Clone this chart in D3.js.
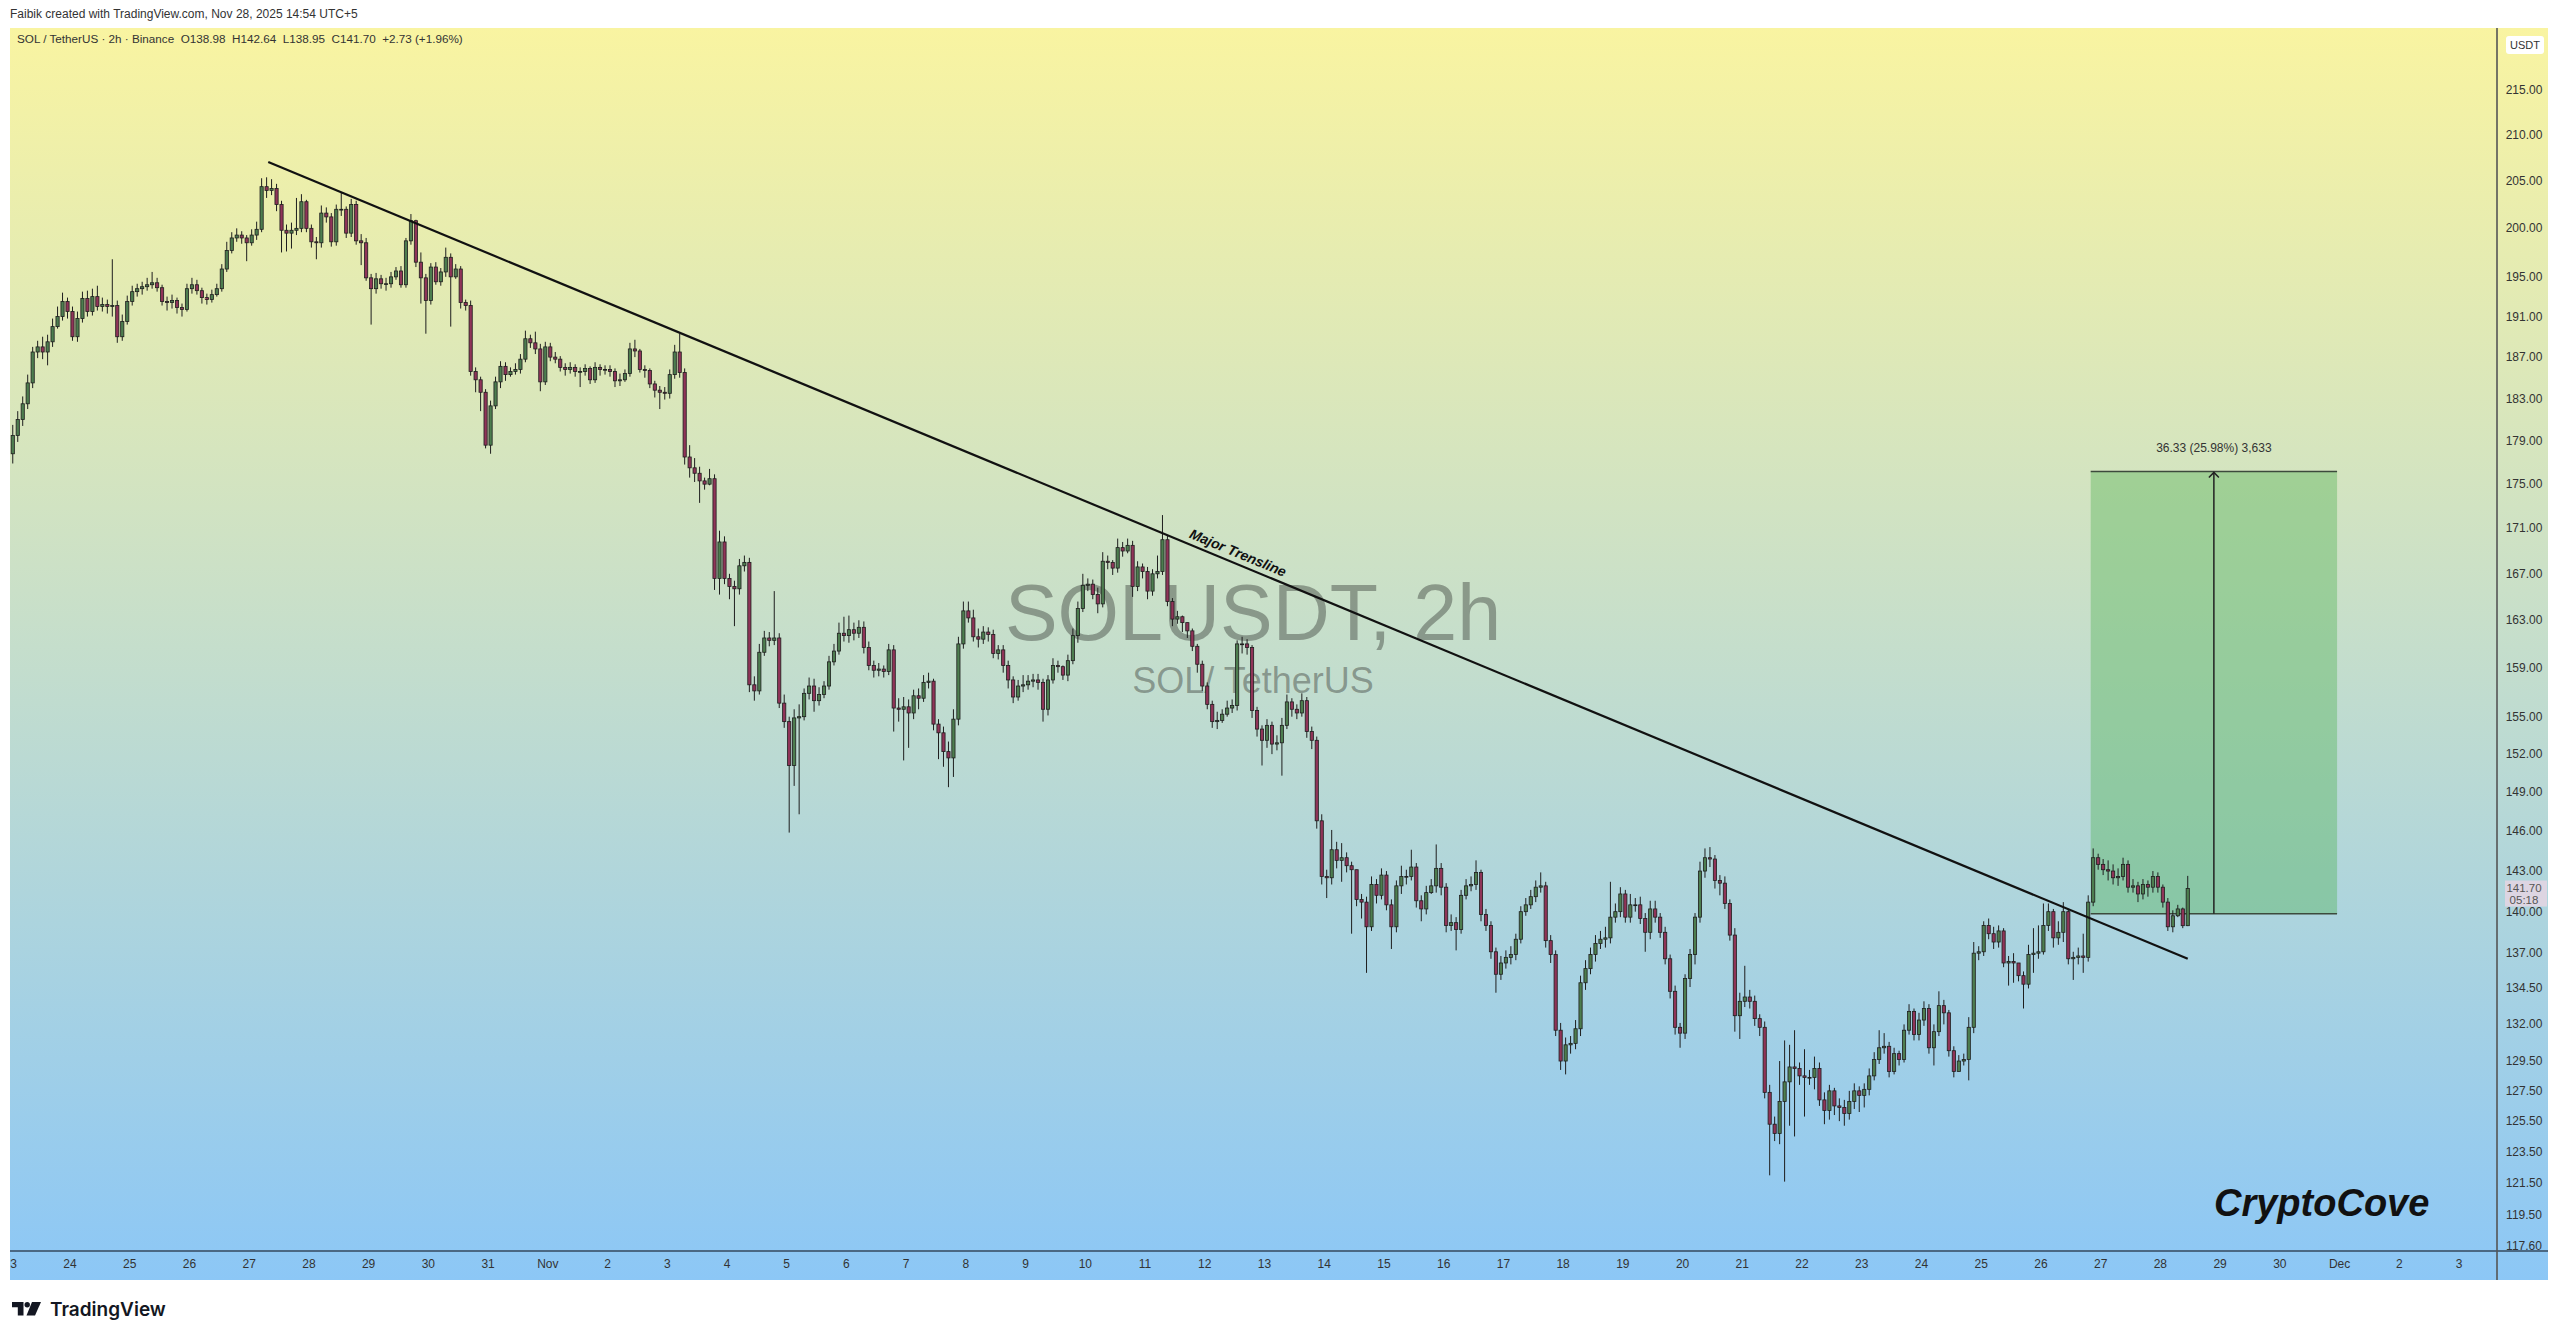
<!DOCTYPE html>
<html><head><meta charset="utf-8">
<script src="https://cdnjs.cloudflare.com/ajax/libs/d3/7.8.5/d3.min.js"></script>
<style>html,body{margin:0;padding:0;background:#fff;}svg{display:block;}text{font-family:"Liberation Sans",Arial,sans-serif;}</style>
</head><body>
<svg id="c" width="2560" height="1339"></svg>
<script>
// ---- DATA (2h candles, SOL/USDT, local time UTC+5) ----
const firstOpen = 177.8;
const closes = [
179.5,181.0,182.5,184.5,187.5,188.0,187.5,188.5,190.0,191.0,192.5,191.5,
189.0,190.8,192.8,191.5,193.0,192.0,192.2,192.0,192.1,189.0,190.5,192.5,
193.5,193.8,194.0,194.2,194.4,193.9,192.5,192.4,192.6,191.9,191.7,193.8,
194.2,193.6,192.9,192.7,193.2,193.8,195.8,197.7,199.0,199.3,199.0,198.5,
199.3,199.9,204.4,204.0,204.2,202.5,199.8,199.5,199.8,200.0,202.8,200.0,
198.6,198.5,201.6,201.2,198.6,202.0,202.0,199.5,202.5,198.7,198.5,194.9,
193.8,194.8,194.3,194.3,195.0,195.6,194.2,198.7,200.8,196.5,194.9,192.6,
196.0,194.5,195.5,197.0,195.0,195.8,192.4,192.1,185.6,184.8,183.6,178.6,
182.3,184.6,186.1,185.3,185.6,185.8,186.8,188.8,188.4,187.8,184.6,188.0,
187.0,186.8,186.0,185.8,186.0,185.6,185.6,185.9,184.8,186.0,185.8,185.8,
185.6,184.7,184.8,185.4,187.8,187.6,185.8,185.7,184.4,183.8,183.6,183.5,
185.3,187.5,185.5,177.5,176.5,176.0,175.3,175.0,175.5,166.6,169.8,166.6,
165.9,165.7,167.7,168.0,157.6,157.1,160.3,161.5,161.3,161.5,156.1,154.6,
151.1,154.9,155.0,156.9,157.5,156.3,156.8,157.5,159.5,160.4,161.9,161.7,
162.2,161.9,162.4,160.7,159.2,158.8,158.9,158.7,160.5,155.7,155.6,155.8,
155.3,156.7,156.5,157.8,157.9,154.4,153.7,152.2,151.7,154.8,161.0,163.8,
163.2,161.6,161.4,162.0,161.8,160.2,160.5,159.2,158.0,156.6,157.5,157.6,
157.9,158.0,157.8,155.6,158.0,159.2,159.1,158.4,159.6,161.7,164.0,166.0,
166.1,165.2,164.4,168.1,168.0,167.5,169.3,169.0,169.5,165.9,167.6,167.2,
165.5,167.0,167.2,170.0,164.6,163.1,163.3,162.8,162.1,160.8,159.3,157.5,
156.0,154.6,154.7,155.2,155.7,155.9,161.0,161.0,160.7,155.5,154.0,153.1,
154.3,152.8,152.9,154.3,156.2,155.6,155.3,156.3,153.8,153.1,146.8,142.6,
142.5,144.6,143.8,144.0,143.4,143.1,140.9,140.7,138.9,142.0,141.2,142.7,
140.5,138.9,141.9,142.6,142.6,143.3,140.8,140.2,141.4,141.9,143.2,141.8,
139.0,139.2,138.7,141.2,141.9,142.0,142.9,139.8,139.0,137.1,135.5,136.3,
136.7,136.9,138.0,140.0,140.5,141.1,141.8,141.9,137.9,136.9,131.6,129.5,
130.6,130.7,131.7,134.9,135.9,136.9,137.7,138.0,138.1,139.6,140.0,141.3,
139.6,140.5,140.5,139.5,138.5,140.2,139.6,138.5,136.6,134.3,131.8,131.4,
135.2,136.9,139.6,143.0,144.0,143.9,142.3,142.1,140.6,138.3,132.6,133.6,
133.9,133.6,132.4,131.8,127.4,125.3,124.7,126.8,128.1,129.1,129.0,128.5,
128.4,128.4,129.0,126.9,126.2,127.5,126.5,126.4,126.0,126.8,127.5,127.2,
127.6,128.5,129.6,130.4,130.5,128.8,130.0,129.6,131.6,132.9,131.3,132.3,
133.1,130.4,131.5,133.3,132.8,130.2,128.8,129.5,129.6,131.8,137.0,137.1,
139.0,138.4,137.8,138.6,136.3,136.4,136.3,135.4,134.8,136.9,137.0,137.1,
139.0,140.0,138.1,138.5,140.0,136.6,136.7,136.8,136.7,140.7,144.0,143.5,
143.1,143.0,142.5,142.6,143.5,141.8,141.9,141.3,142.0,141.8,142.6,141.8,
140.7,138.9,139.7,140.2,138.98,141.70];
const highs = [
180.5,181.8,183.2,185.3,188.0,188.6,189.0,189.2,190.8,192.0,193.4,192.9,
192.0,191.5,193.5,193.6,193.8,194.1,192.9,192.7,196.8,192.6,191.2,193.1,
194.1,194.3,194.5,194.9,195.5,194.9,194.2,193.0,193.2,192.9,192.3,194.3,
194.9,194.7,193.9,193.3,193.7,194.3,196.3,198.6,199.6,200.0,199.7,199.3,
199.9,200.7,205.3,205.4,205.2,204.7,202.9,200.4,200.6,203.2,203.6,203.0,
200.4,199.1,202.4,202.2,201.6,202.5,203.8,202.3,203.1,202.9,199.4,199.0,
195.3,195.4,195.2,194.9,195.5,196.0,196.1,199.0,201.5,200.9,197.5,195.3,
196.4,196.5,195.9,198.0,197.4,196.3,196.1,192.7,192.6,186.0,185.1,183.9,
182.8,185.1,186.6,186.5,186.0,186.4,187.3,189.6,189.2,189.5,188.3,188.5,
188.4,187.5,187.1,186.4,186.5,186.3,186.0,186.3,186.1,186.5,186.3,186.2,
186.2,185.9,185.4,185.8,188.4,188.7,187.8,186.2,185.9,184.7,184.2,184.1,
185.8,188.2,189.3,185.9,178.6,177.4,176.6,175.6,176.4,175.9,170.8,170.3,
167.0,166.4,168.3,168.6,168.4,158.3,161.0,162.1,162.0,165.5,161.9,156.8,
155.0,155.6,156.0,157.3,158.2,158.1,157.4,157.9,160.0,161.0,162.8,163.3,
163.4,162.8,163.0,162.9,161.2,159.6,159.4,159.2,161.0,160.9,156.5,156.6,
156.4,157.2,157.3,158.4,158.6,158.1,154.8,154.2,153.0,155.6,161.6,164.6,
164.6,163.9,162.3,162.5,162.4,162.2,160.9,160.9,159.6,158.3,158.0,158.4,
158.4,158.5,158.5,158.1,158.4,159.8,159.6,159.2,160.1,162.3,164.6,167.0,
166.6,166.5,165.8,168.9,168.6,168.2,170.1,169.8,170.1,169.9,168.1,167.9,
167.6,167.4,168.6,172.2,170.4,164.9,163.8,163.4,162.6,162.3,161.0,159.6,
157.8,156.3,155.4,155.6,156.3,156.4,161.3,161.6,161.4,160.9,155.8,154.3,
154.8,154.6,153.5,154.9,156.8,156.5,156.0,156.9,156.6,154.2,153.4,147.3,
143.1,146.1,145.2,145.1,144.4,143.7,141.5,141.3,141.1,142.6,142.4,143.2,
143.0,140.9,142.3,143.4,143.1,144.6,143.6,141.2,141.9,142.4,145.0,143.6,
142.1,139.8,139.6,141.6,142.4,142.6,143.8,143.1,140.2,139.3,137.4,136.8,
137.2,137.5,138.4,140.4,141.0,141.6,142.3,142.9,142.2,138.3,137.2,132.1,
131.1,131.2,132.3,135.4,136.5,137.4,138.3,138.6,138.9,142.2,140.6,141.8,
141.6,141.3,141.0,141.1,139.9,140.8,140.8,139.9,138.9,136.9,134.7,132.1,
135.5,137.3,139.9,143.7,144.7,144.8,144.2,142.7,142.6,140.9,138.8,134.2,
136.1,134.4,134.0,132.7,132.2,127.9,125.8,129.5,130.9,130.6,131.6,129.4,
130.3,128.9,129.8,129.4,127.4,127.9,127.7,127.0,126.9,127.5,128.0,127.8,
128.0,129.0,130.1,131.6,131.4,130.8,130.4,130.2,132.0,133.4,133.1,132.8,
133.6,133.4,132.0,134.3,133.7,133.0,130.5,129.9,130.0,132.5,137.8,137.5,
139.3,139.5,138.9,139.0,138.8,136.8,137.0,136.0,135.7,137.6,138.8,139.0,
140.6,140.6,140.2,139.3,140.7,140.2,137.1,137.4,138.4,141.2,144.7,144.3,
143.9,143.8,143.5,143.2,144.0,143.8,142.4,142.2,142.4,142.3,143.0,142.9,
142.0,141.0,140.1,140.5,140.3,142.64];
const lows = [
176.9,178.9,180.4,182.0,184.0,186.9,186.8,186.2,188.0,189.8,190.6,190.8,
188.6,188.5,190.4,191.0,191.1,191.6,191.5,191.3,191.0,188.4,188.6,190.2,
192.1,193.0,193.2,193.6,193.8,193.5,192.1,191.6,191.8,191.3,191.0,191.5,
193.3,193.2,192.3,192.2,192.4,193.0,193.5,195.5,197.4,198.6,198.4,196.6,
198.2,198.8,199.6,203.2,203.5,201.8,197.5,197.6,197.9,199.3,199.6,199.6,
198.0,196.8,198.0,200.6,198.1,198.2,201.3,199.0,199.1,198.3,196.2,194.6,
190.2,193.3,193.8,193.6,193.9,194.7,193.9,193.9,198.3,196.0,192.3,189.3,
192.2,194.2,194.1,195.0,190.0,194.8,191.8,191.6,185.2,183.6,181.8,178.3,
177.8,182.0,184.0,184.7,185.1,185.3,185.4,186.5,187.9,187.3,183.7,184.3,
186.6,186.4,185.6,185.2,185.4,185.1,184.1,185.2,184.4,184.5,185.2,185.3,
185.1,184.1,184.2,184.6,185.1,187.0,185.5,185.0,184.0,183.1,182.0,182.9,
183.0,184.9,185.0,176.8,175.6,175.2,173.3,174.5,174.9,165.6,165.2,166.1,
164.8,162.5,165.2,167.2,157.0,156.3,156.8,160.0,160.8,160.9,155.7,154.1,
145.9,149.5,147.3,154.7,156.4,155.4,155.9,156.5,157.2,159.2,160.1,161.2,
161.1,161.3,161.5,160.2,158.8,158.2,158.3,158.2,158.4,153.8,154.6,151.5,
152.5,154.8,155.6,156.2,157.3,153.9,151.6,151.0,149.4,150.2,154.3,160.6,
162.8,161.2,160.7,161.0,161.2,159.8,159.7,158.6,157.3,156.1,156.3,157.0,
157.2,157.4,157.2,154.6,155.1,157.7,158.6,158.0,157.9,159.3,161.1,163.7,
165.5,164.8,163.6,164.1,167.4,166.9,167.1,168.5,168.8,165.0,165.5,166.6,
164.8,165.1,166.6,166.9,164.2,162.5,162.7,162.0,161.5,160.4,158.6,157.1,
155.6,154.1,154.0,154.5,155.0,155.3,155.5,160.2,160.1,154.9,153.4,151.1,
152.5,152.0,152.3,150.3,154.0,155.0,154.8,155.0,153.3,152.4,146.2,142.0,
141.0,142.0,143.2,142.2,142.9,138.4,140.4,139.5,135.6,138.6,140.6,140.9,
140.1,137.3,138.5,141.3,142.0,142.3,140.3,139.3,139.8,141.3,141.4,141.2,
138.5,138.6,137.2,138.4,140.9,141.5,141.6,139.3,138.6,136.6,134.2,135.1,
135.9,136.2,136.5,137.7,139.7,140.2,140.7,141.4,137.4,136.3,131.2,128.9,
128.6,130.0,130.3,131.2,134.4,135.5,136.4,137.3,137.4,137.7,139.2,139.6,
139.2,139.2,140.0,139.1,137.1,138.0,139.2,138.1,136.2,133.8,131.3,130.4,
131.0,134.6,136.2,139.2,142.5,143.3,141.7,141.2,140.2,137.9,131.5,131.0,
133.2,133.1,131.9,131.2,127.0,122.0,124.2,124.0,121.6,125.2,124.5,127.9,
125.8,127.9,127.6,126.5,125.3,125.6,125.9,125.5,125.2,125.6,126.3,126.1,
126.4,127.2,128.2,129.3,130.0,128.4,128.6,129.2,129.4,131.3,130.9,130.9,
131.9,130.0,129.2,131.2,132.0,129.8,128.4,129.0,129.2,128.2,131.4,136.5,
136.8,138.0,137.3,137.4,136.0,134.7,134.9,135.0,133.1,134.5,135.6,136.6,
136.9,138.6,137.4,137.6,137.8,136.2,135.1,136.2,135.6,136.4,140.4,143.1,
142.7,142.3,142.0,141.9,142.3,141.4,141.4,140.7,140.9,141.1,141.4,141.4,
140.3,138.6,138.5,139.6,138.8,138.95];
const priceTicks = [215,210,205,200,195,191,187,183,179,175,171,167,163,159,155,152,149,146,143,140,137,134.5,132,129.5,127.5,125.5,123.5,121.5,119.5,117.6];
const monthNames = ["Jan","Feb","Mar","Apr","May","Jun","Jul","Aug","Sep","Oct","Nov","Dec"];
const trendline = [{t: Date.UTC(2025,9,27,7,40), p: 207.05}, {t: Date.UTC(2025,10,28,11,0), p: 136.6}];
const range = {t0: Date.UTC(2025,10,26,20,0), t1: Date.UTC(2025,10,30,23,0), low: 139.84, high: 176.17};
const rangeLabel = "36.33 (25.98%) 3,633";
const lastPrice = "141.70", countdown = "05:18";

// ---- LAYOUT ----
const H2 = 7200000;
const firstBar = Date.UTC(2025,9,23,1,0);
const plot = {left:10, right:2497, top:28, bottom:1251};
const x = d3.scaleUtc().domain([Date.UTC(2025,9,24), Date.UTC(2025,11,3)]).range([70, 2459]);
const y = d3.scaleLog().domain([117.6, 215]).range([1245.7, 89.8]);

const candles = closes.map((c,i)=>{
  const o = i ? closes[i-1] : firstOpen;
  return {t: firstBar + i*H2, o, c, h: Math.max(highs[i], o, c), l: Math.min(lows[i], o, c)};
});

const svg = d3.select('#c');
const defs = svg.append('defs');
const grad = defs.append('linearGradient').attr('id','bg').attr('x1',0).attr('y1',0).attr('x2',0).attr('y2',1);
grad.append('stop').attr('offset','0%').attr('stop-color','#f9f4a1');
grad.append('stop').attr('offset','45%').attr('stop-color','#cae0c8');
grad.append('stop').attr('offset','100%').attr('stop-color','#8cc7f6');
defs.append('clipPath').attr('id','clip').append('rect')
  .attr('x',plot.left).attr('y',plot.top).attr('width',plot.right-plot.left).attr('height',plot.bottom-plot.top);
defs.append('clipPath').attr('id','clipx').append('rect')
  .attr('x',plot.left).attr('y',plot.bottom).attr('width',plot.right-plot.left).attr('height',30);

svg.append('rect').attr('x',10).attr('y',28).attr('width',2538).attr('height',1252).attr('fill','url(#bg)');

// header
svg.append('text').attr('x',10).attr('y',18).attr('font-size',12).attr('fill','#333')
  .text('Faibik created with TradingView.com, Nov 28, 2025 14:54 UTC+5');
svg.append('text').attr('x',17).attr('y',43).attr('font-size',11.7).attr('fill','#333').style('white-space','pre')
  .text('SOL / TetherUS · 2h · Binance  O138.98  H142.64  L138.95  C141.70  +2.73 (+1.96%)');

// watermark
svg.append('text').attr('x',1253).attr('y',640).attr('text-anchor','middle').attr('font-size',79)
  .attr('fill','rgba(70,75,70,0.48)').text('SOLUSDT, 2h');
svg.append('text').attr('x',1253).attr('y',693).attr('text-anchor','middle').attr('font-size',36)
  .attr('fill','rgba(70,75,70,0.48)').text('SOL/ TetherUS');

// range box
const gR = svg.append('g').attr('clip-path','url(#clip)');
const bx0 = x(range.t0), bx1 = x(range.t1), by0 = y(range.high), by1 = y(range.low);
gR.append('rect').attr('x',bx0).attr('y',by0).attr('width',bx1-bx0).attr('height',by1-by0).attr('fill','rgba(76,175,80,0.38)');
gR.append('line').attr('x1',bx0).attr('x2',bx1).attr('y1',by0).attr('y2',by0).attr('stroke','#3c4a3c').attr('stroke-width',1.5);
gR.append('line').attr('x1',bx0).attr('x2',bx1).attr('y1',by1).attr('y2',by1).attr('stroke','#3c4a3c').attr('stroke-width',1.5);
const amx = x((range.t0+range.t1)/2);
gR.append('line').attr('x1',amx).attr('x2',amx).attr('y1',by1).attr('y2',by0+1).attr('stroke','#222').attr('stroke-width',1.5);
gR.append('path').attr('d',`M${amx-5},${by0+6} L${amx},${by0+1} L${amx+5},${by0+6}`).attr('fill','none').attr('stroke','#222').attr('stroke-width',1.5);
svg.append('text').attr('x',amx).attr('y',by0-19).attr('text-anchor','middle').attr('font-size',12).attr('fill','#333').text(rangeLabel);

// candles
const g = svg.append('g').attr('clip-path','url(#clip)');
g.selectAll('line.w').data(candles).join('line').attr('class','w')
  .attr('x1',d=>x(d.t)).attr('x2',d=>x(d.t)).attr('y1',d=>y(d.h)).attr('y2',d=>y(d.l))
  .attr('stroke','#1e1e1e').attr('stroke-width',1);
g.selectAll('rect.b').data(candles).join('rect').attr('class','b')
  .attr('x',d=>x(d.t)-1.6).attr('width',3.2)
  .attr('y',d=>y(Math.max(d.o,d.c))).attr('height',d=>Math.max(0.8,Math.abs(y(d.o)-y(d.c))))
  .attr('fill',d=>d.c>=d.o?'#4d7d4f':'#8f3458').attr('stroke','#1e1e1e').attr('stroke-width',0.8);

// trendline
const tp = trendline.map(d=>[x(d.t), y(d.p)]);
g.append('line').attr('x1',tp[0][0]).attr('y1',tp[0][1]).attr('x2',tp[1][0]).attr('y2',tp[1][1])
  .attr('stroke','#111').attr('stroke-width',2.2);
const ang = Math.atan2(tp[1][1]-tp[0][1], tp[1][0]-tp[0][0])*180/Math.PI;
const f = 0.503, lx = tp[0][0]+(tp[1][0]-tp[0][0])*f, ly = tp[0][1]+(tp[1][1]-tp[0][1])*f;
svg.append('text').attr('transform',`translate(${lx},${ly}) rotate(${ang})`).attr('y',-6)
  .attr('text-anchor','middle').attr('font-size',14).attr('font-weight','bold').attr('font-style','italic')
  .attr('fill','#111').text('Major Trensline');

// axes lines
svg.append('line').attr('x1',10).attr('x2',2548).attr('y1',plot.bottom).attr('y2',plot.bottom).attr('stroke','#34495e').attr('stroke-width',1.6);
svg.append('line').attr('x1',plot.right).attr('x2',plot.right).attr('y1',28).attr('y2',1280).attr('stroke','#555').attr('stroke-width',1.6);

// price axis
svg.append('g').selectAll('text').data(priceTicks).join('text')
  .attr('x',2524).attr('y',d=>y(d)+4).attr('text-anchor','middle').attr('font-size',12).attr('fill','#333')
  .text(d=>d.toFixed(2));
svg.append('rect').attr('x',2506).attr('y',36).attr('width',38).attr('height',18).attr('rx',3).attr('fill','#fff');
svg.append('text').attr('x',2525).attr('y',49).attr('text-anchor','middle').attr('font-size',11).attr('fill','#333').text('USDT');
// last price label
const lp = y(+lastPrice);
svg.append('rect').attr('x',2505).attr('y',lp-8).attr('width',42).attr('height',26).attr('fill','#ddd5e2');
svg.append('text').attr('x',2524).attr('y',lp+3.5).attr('text-anchor','middle').attr('font-size',11.5).attr('fill','#555').text(lastPrice);
svg.append('text').attr('x',2524).attr('y',lp+15).attr('text-anchor','middle').attr('font-size',11.5).attr('fill','#555').text(countdown);

// time axis
const days = d3.utcDay.range(Date.UTC(2025,9,23), Date.UTC(2025,11,4));
svg.append('g').attr('clip-path','url(#clipx)').selectAll('text').data(days).join('text')
  .attr('x',d=>x(d)).attr('y',1268).attr('text-anchor','middle').attr('font-size',12).attr('fill','#333')
  .text(d=>d.getUTCDate()===1 ? monthNames[d.getUTCMonth()] : String(d.getUTCDate()));

// CryptoCove
svg.append('text').attr('x',2214).attr('y',1216).attr('font-size',38).attr('font-weight','bold').attr('font-style','italic')
  .attr('fill','#111').text('CryptoCove');

// TradingView logo
const lg = svg.append('g').attr('transform','translate(12,1302)').attr('fill','#131722');
lg.append('path').attr('d','M0,0 H11.5 V13.5 H5.8 V5.2 H0 Z');
lg.append('circle').attr('cx',15.2).attr('cy',2.7).attr('r',2.7);
lg.append('path').attr('d','M20,0 H29 L23,13.5 H14.5 Z');
svg.append('text').attr('x',50).attr('y',1316).attr('font-size',19).attr('font-weight',600)
  .style('font-family','Inter, "Liberation Sans", sans-serif').attr('fill','#131722').text('TradingView');
</script>
</body></html>
